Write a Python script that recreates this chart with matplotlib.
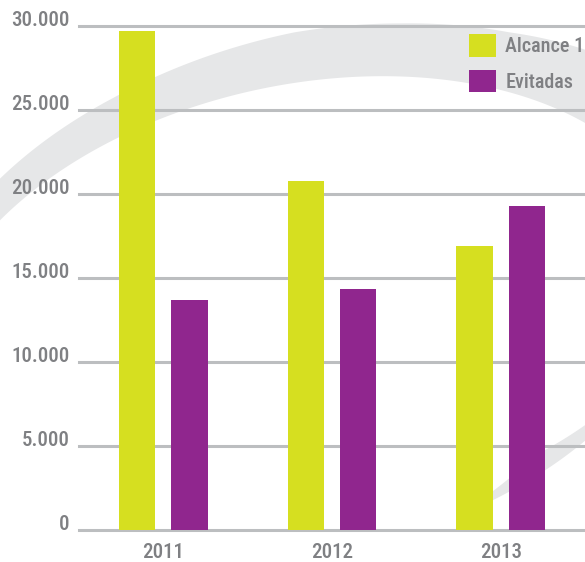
import matplotlib.pyplot as plt
import matplotlib.patches as mpatches
from matplotlib.transforms import IdentityTransform
import numpy as np

plt.rcParams['font.family'] = ['Roboto Condensed', 'Roboto', 'DejaVu Sans']
plt.rcParams['font.weight'] = 'medium'

# data
years = ['2011', '2012', '2013']
alcance = [29700, 20750, 16900]
evitadas = [13700, 14350, 19300]
series_names = ['Alcance 1', 'Evitadas']
yticks = [0, 5000, 10000, 15000, 20000, 25000, 30000]
ytick_labels = ['0', '5.000', '10.000', '15.000', '20.000', '25.000', '30.000']

yellow = '#d6df20'
purple = '#90268e'
text_gray = '#7f8083'
grid_gray = '#bcbec0'
band_gray = '#e6e7e8'

W, H = 585, 562
fig = plt.figure(figsize=(W / 100, H / 100), dpi=100)

# background swoosh: an elliptic arc (pixels, y up) whose width varies
# along the ellipse angle t (negative width = band lies inside the ellipse)
sw_c = np.array([304.9, 242.8])
sw_a, sw_b = 382.0, 234.4
sw_phi = np.radians(12.28)
sw_t = [-72, -68, -58, -48, -30, -15, 0, 33, 52, 68, 83, 110, 136, 175]
sw_w = [0, -7, -18, -12, 0, 25, 50, 70, 58, 53, 50, 38, 29, 22]

tt = np.radians(np.linspace(-72, 175, 600))
lx, ly = sw_a * np.cos(tt), sw_b * np.sin(tt)
nx, ny = np.cos(tt) / sw_a, np.sin(tt) / sw_b
nn = np.hypot(nx, ny)
nx, ny = nx / nn, ny / nn
rot = np.array([[np.cos(sw_phi), -np.sin(sw_phi)],
                [np.sin(sw_phi), np.cos(sw_phi)]])
inner = (rot @ np.vstack([lx, ly])).T + sw_c
normal = (rot @ np.vstack([nx, ny])).T
width = np.interp(np.degrees(tt), sw_t, sw_w)
outer = inner + normal * width[:, None]
band = np.vstack([outer, inner[::-1]])
fig.patches.append(mpatches.Polygon(band, closed=True,
                                    transform=IdentityTransform(),
                                    facecolor=band_gray, edgecolor='none',
                                    zorder=-1))

ax = fig.add_axes([79 / W, 32 / H, 506 / W, 504 / H])
ax.patch.set_alpha(0)

x = np.arange(len(years))
off = 0.155
bw = 0.214
ax.bar(x - off, alcance, bw, color=yellow, label=series_names[0], zorder=3)
ax.bar(x + off, evitadas, bw, color=purple, label=series_names[1], zorder=3)

ax.set_xlim(-0.5, 2.5)
ax.set_ylim(0, 30000)
ax.set_yticks(yticks)
ax.set_yticklabels(ytick_labels)
ax.set_xticks(x)
ax.set_xticklabels(years)
ax.grid(axis='y', color=grid_gray, linewidth=2.2, zorder=1)
for gl in ax.get_ygridlines():
    gl.set_clip_on(False)
ax.set_axisbelow(True)
for s in ax.spines.values():
    s.set_visible(False)
ax.tick_params(length=0, labelsize=15, colors=text_gray)
ax.tick_params(axis='y', pad=7)
ax.tick_params(axis='x', pad=9.5)
for lab in ax.get_yticklabels():
    lab.set_verticalalignment('baseline')

ax.legend(loc='upper left', bbox_to_anchor=(0.771, 0.984), frameon=False,
          fontsize=14.5, labelcolor=text_gray, handlelength=1.35,
          handleheight=1.35, handletextpad=0.45, labelspacing=0.65,
          borderpad=0, borderaxespad=0)

fig.savefig('out.png', dpi=100)
